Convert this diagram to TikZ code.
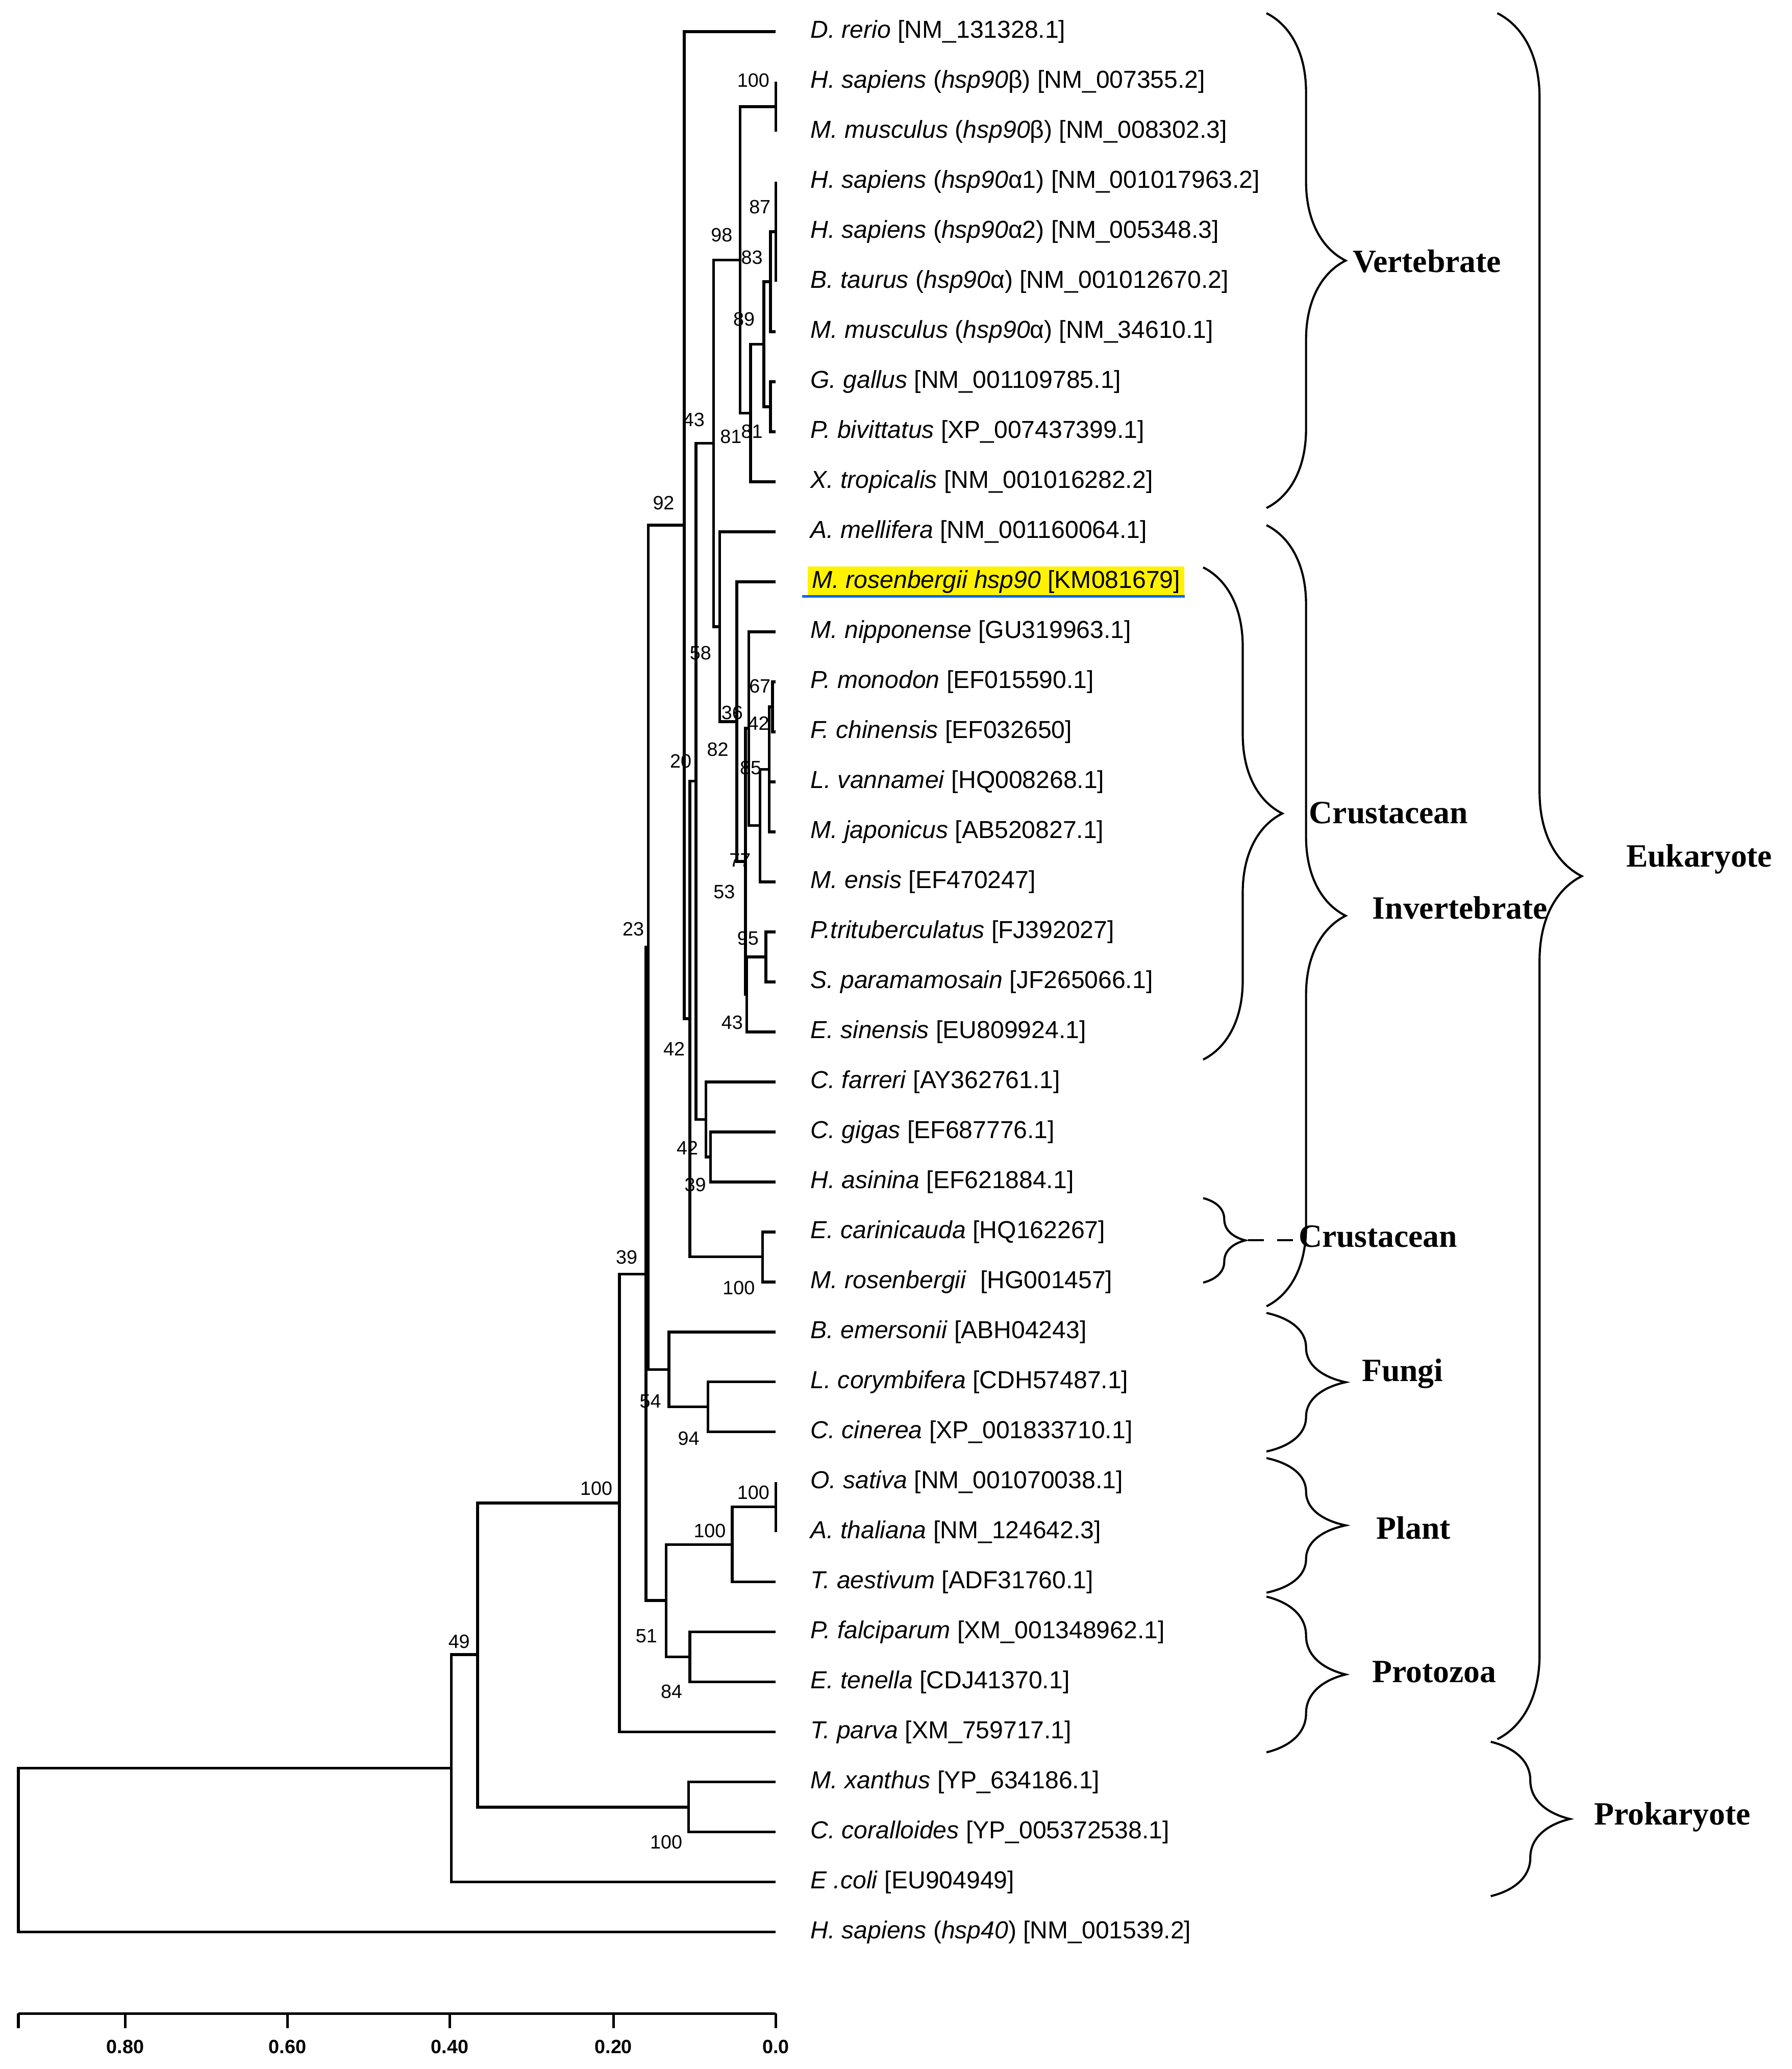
\documentclass[tikz,border=0pt]{standalone}
\usepackage{fontspec}
\setmainfont{Liberation Sans}
\newfontfamily\serifb{Liberation Serif}
\usetikzlibrary{decorations.pathreplacing}
\newcommand\br[2]{\foreach \c in {#2} {\draw[tree] (#1) |- (\c);}}
\begin{document}
\begin{tikzpicture}[x=0.5pt,y=-0.5pt,
  tree/.style={line width=1.05pt},
  leaf/.style={anchor=west,font=\fontsize{9.3}{10}\selectfont,inner sep=1pt},
  bs/.style={font=\fontsize{7.3}{8}\selectfont,inner sep=0pt},
  grp/.style={font=\serifb\bfseries\fontsize{12.3}{13}\selectfont,inner sep=0pt},
  brc/.style={decorate,decoration={brace,amplitude=#1},line width=0.8pt},
  ax/.style={font=\fontsize{7.3}{8}\selectfont\bfseries,inner sep=0pt}]
\useasboundingbox (0,0) rectangle (1358,1568);
% leaves
\foreach \i in {0,...,38} {\coordinate (l\i) at (588,{24+37.9*\i});}
\foreach \i/\t in {
0/{\textit{D. rerio} [NM\_131328.1]},
1/{\textit{H. sapiens} (\textit{hsp90}β) [NM\_007355.2]},
2/{\textit{M. musculus} (\textit{hsp90}β) [NM\_008302.3]},
3/{\textit{H. sapiens} (\textit{hsp90}α1) [NM\_001017963.2]},
4/{\textit{H. sapiens} (\textit{hsp90}α2) [NM\_005348.3]},
5/{\textit{B. taurus} (\textit{hsp90}α) [NM\_001012670.2]},
6/{\textit{M. musculus} (\textit{hsp90}α) [NM\_34610.1]},
7/{\textit{G. gallus} [NM\_001109785.1]},
8/{\textit{P. bivittatus} [XP\_007437399.1]},
9/{\textit{X. tropicalis} [NM\_001016282.2]},
10/{\textit{A. mellifera} [NM\_001160064.1]},
12/{\textit{M. nipponense} [GU319963.1]},
13/{\textit{P. monodon} [EF015590.1]},
14/{\textit{F. chinensis} [EF032650]},
15/{\textit{L. vannamei} [HQ008268.1]},
16/{\textit{M. japonicus} [AB520827.1]},
17/{\textit{M. ensis} [EF470247]},
18/{\textit{P.trituberculatus} [FJ392027]},
19/{\textit{S. paramamosain} [JF265066.1]},
20/{\textit{E. sinensis} [EU809924.1]},
21/{\textit{C. farreri} [AY362761.1]},
22/{\textit{C. gigas} [EF687776.1]},
23/{\textit{H. asinina} [EF621884.1]},
24/{\textit{E. carinicauda} [HQ162267]},
25/{\textit{M. rosenbergii}\ \ [HG001457]},
26/{\textit{B. emersonii} [ABH04243]},
27/{\textit{L. corymbifera} [CDH57487.1]},
28/{\textit{C. cinerea} [XP\_001833710.1]},
29/{\textit{O. sativa} [NM\_001070038.1]},
30/{\textit{A. thaliana} [NM\_124642.3]},
31/{\textit{T. aestivum} [ADF31760.1]},
32/{\textit{P. falciparum} [XM\_001348962.1]},
33/{\textit{E. tenella} [CDJ41370.1]},
34/{\textit{T. parva} [XM\_759717.1]},
35/{\textit{M. xanthus} [YP\_634186.1]},
36/{\textit{C. coralloides} [YP\_005372538.1]},
37/{\textit{E .coli} [EU904949]},
38/{\textit{H. sapiens} (\textit{hsp40}) [NM\_001539.2]}}
{\node[leaf] (t\i) at (612,{24+37.9*\i}) {\t};}
\node[leaf,fill=yellow,inner sep=1.5pt] (t11) at (612,440.9) {\textit{M. rosenbergii hsp90} [KM081679]};
\draw[blue!60!cyan,line width=0.8pt] (t11.south west) ++(-4,-1) coordinate (u1) -- (t11.south east|-u1) ++(4,0) coordinate (u2);
% internal nodes
\coordinate (h) at (588,80.9);
\coordinate (g1) at (588,175.6);
\coordinate (g2) at (584,213.5);
\coordinate (g4) at (584,308.3);
\coordinate (g3) at (579,260.9);
\coordinate (g5) at (569,313);
\coordinate (g6) at (561,197);
\coordinate (P) at (580.5,725.2);
\coordinate (Q) at (566,753.6);
\coordinate (R) at (585.6,535.7);
\coordinate (S) at (583,583);
\coordinate (T) at (576,625.7);
\coordinate (U) at (567.6,552);
\coordinate (V) at (565,652.8);
\coordinate (W) at (558.5,546.9);
\coordinate (X) at (545.6,475);
\coordinate (Y) at (541,336);
\coordinate (M2) at (538.6,876.8);
\coordinate (M1) at (535,848.3);
\coordinate (N528) at (527.6,592);
\coordinate (C2) at (578,952.5);
\coordinate (N523) at (523,772);
\coordinate (N518) at (518.6,398);
\coordinate (F2) at (536.6,1066.2);
\coordinate (F1) at (507,1037.8);
\coordinate (Z) at (491.5,717.9);
\coordinate (PA) at (588,1142);
\coordinate (PL) at (555,1170.5);
\coordinate (PR) at (523,1255.7);
\coordinate (PP) at (505,1213);
\coordinate (N39) at (489.6,965.5);
\coordinate (N100) at (469.5,1139);
\coordinate (PK) at (522,1369.5);
\coordinate (C) at (362,1254);
\coordinate (B) at (342,1340);
\coordinate (A) at (14,1402);
\br{h}{l1,l2}
\br{g1}{l3,l4,l5}
\br{g2}{g1,l6}
\br{g4}{l7,l8}
\br{g3}{g2,g4}
\br{g5}{g3,l9}
\br{g6}{h,g5}
\br{P}{l18,l19}
\br{Q}{P,l20}
\br{R}{l13,l14}
\br{S}{R,l15,l16}
\br{T}{S,l17}
\br{U}{l12,T}
\br{V}{U,Q}
\br{W}{l11,V}
\br{X}{l10,W}
\br{Y}{g6,X}
\br{M2}{l22,l23}
\br{M1}{l21,M2}
\br{N528}{Y,M1}
\br{C2}{l24,l25}
\br{N523}{N528,C2}
\br{N518}{l0,N523}
\br{F2}{l27,l28}
\br{F1}{l26,F2}
\br{Z}{N518,F1}
\br{PA}{l29,l30}
\br{PL}{PA,l31}
\br{PR}{l32,l33}
\br{PP}{PL,PR}
\br{N39}{Z,PP}
\br{N100}{N39,l34}
\br{PK}{l35,l36}
\br{C}{N100,PK}
\br{B}{C,l37}
\br{A}{B,l38}
% bootstrap labels
\foreach \x/\y/\v [count=\k] in {571/61/100,576/157/87,547/178/98,570/195/83,564/242/89,526/318/43,
554/331/81,570/327/81,503/381/92,531/495/58,555/540/36,576/520/67,575/548/42,544/568/82,516/577/20,
569/582/85,561/652/77,549/676/53,480/704/23,567/711/95,555/775/43,511/795/42,521/870/42,527/898/39,
475/953/39,560/976/100,493/1062/54,522/1090/94,452/1128/100,571/1131/100,538/1160/100,490/1240/51,
348/1244/49,509/1282/84,505/1396/100}
{\node[bs] (b\k) at (\x,\y) {\v};}
% braces
\draw[brc=30pt] (960,10) coordinate (vb1) -- (960,385) coordinate (vb2);
\node[grp,anchor=west] (gv) at (1025,198) {Vertebrate};
\draw[brc=32pt] (1135,10) coordinate (eb1) -- (1135,1318) coordinate (eb2);
\node[grp] (ge) at (1288,651) {Eukaryote};
\draw[brc=30pt] (960,398) coordinate (ib1) -- (960,990) coordinate (ib2);
\node[grp,anchor=west] (gi) at (1040,688) {Invertebrate};
\draw[brc=30pt] (912,430) coordinate (cb1) -- (912,803) coordinate (cb2);
\node[grp,anchor=west] (gc) at (992,616) {Crustacean};
\draw[brc=16pt] (912,908) coordinate (db1) -- (912,972) coordinate (db2);
\coordinate (dd1) at (946,940);
\coordinate (dd2) at (982,940);
\draw[dashed,line width=0.8pt,dash pattern=on 6pt off 5pt] (dd1) -- (dd2);
\node[grp,anchor=west] (gc2) at (984,937) {Crustacean};
\draw[brc=30pt] (960,995) coordinate (fb1) -- (960,1100) coordinate (fb2);
\node[grp,anchor=west] (gf) at (1032,1041) {Fungi};
\draw[brc=30pt] (960,1105) coordinate (pb1) -- (960,1207) coordinate (pb2);
\node[grp,anchor=west] (gp) at (1043,1158) {Plant};
\draw[brc=30pt] (960,1210) coordinate (zb1) -- (960,1328) coordinate (zb2);
\node[grp,anchor=west] (gz) at (1040,1267) {Protozoa};
\draw[brc=30pt] (1130,1320) coordinate (kb1) -- (1130,1437) coordinate (kb2);
\node[grp,anchor=west] (gk) at (1208,1377) {Prokaryote};
% axis
\coordinate (a0) at (14,1526);
\coordinate (a1) at (588,1526);
\draw[line width=1.05pt] (a0) -- (a1);
\foreach \x/\t in {14/,95/0.80,218/0.60,341/0.40,465/0.20,588/0.0}
{\draw[line width=1.05pt] (\x,1526) -- (\x,1537);
 \node[ax] at (\x,1551) {\t};}
\end{tikzpicture}
\end{document}
